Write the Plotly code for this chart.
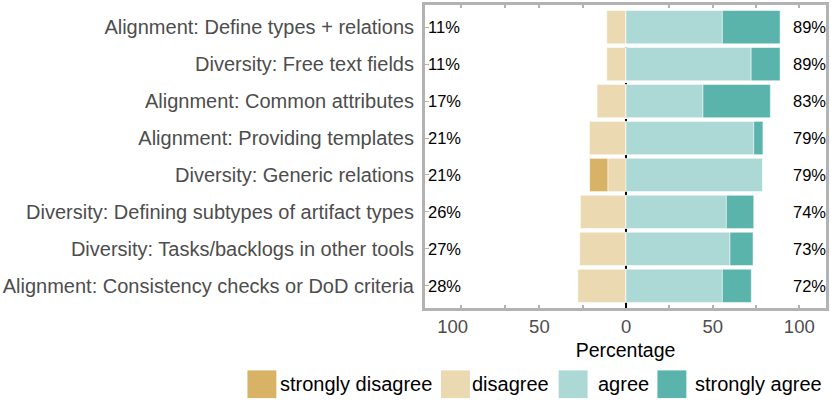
import plotly.graph_objects as go

# Items, top to bottom
categories = [
    "Alignment: Define types + relations",
    "Diversity: Free text fields",
    "Alignment: Common attributes",
    "Alignment: Providing templates",
    "Diversity: Generic relations",
    "Diversity: Defining subtypes of artifact types",
    "Diversity: Tasks/backlogs in other tools",
    "Alignment: Consistency checks or DoD criteria",
]

# Percentages per answer
strongly_disagree = [0, 0, 0, 0, 10.5, 0, 0, 0]
disagree = [11.1, 11.1, 16.7, 21.1, 10.5, 26.3, 26.7, 27.8]
agree = [55.6, 72.2, 44.4, 73.7, 78.9, 57.9, 60.0, 55.6]
strongly_agree = [33.3, 16.7, 38.9, 5.3, 0, 15.8, 13.3, 16.7]

levels = ["strongly disagree", "disagree", "agree", "strongly agree"]
colors = {"strongly disagree": "#D8B365", "disagree": "#EBD9B2",
          "agree": "#ACD9D5", "strongly agree": "#5AB4AC"}

x_ticks = [-100, -50, 0, 50, 100]
x_minor = [-95, -70, -50, -25, 25, 50, 75, 100]

FONT = "Liberation Sans, Arial, sans-serif"
GREY = "#B3B3B3"
W, H = 831, 401
L, R, T, B = 425, 4, 2, 93

fig = go.Figure()

# negative side: first trace sits next to zero
fig.add_trace(go.Bar(y=categories, x=[-v for v in disagree], name="disagree", orientation="h",
                     marker=dict(color=colors["disagree"], line=dict(color="white", width=0.5)), width=0.9))
fig.add_trace(go.Bar(y=categories, x=[-v for v in strongly_disagree], name="strongly disagree", orientation="h",
                     marker=dict(color=colors["strongly disagree"], line=dict(color="white", width=0.5)), width=0.9))
fig.add_trace(go.Bar(y=categories, x=agree, name="agree", orientation="h",
                     marker=dict(color=colors["agree"], line=dict(color="white", width=0.5)), width=0.9))
fig.add_trace(go.Bar(y=categories, x=strongly_agree, name="strongly agree", orientation="h",
                     marker=dict(color=colors["strongly agree"], line=dict(color="white", width=0.5)), width=0.9))

# dashed zero line behind the bars
fig.add_shape(type="line", x0=0, x1=0, y0=0, y1=1, xref="x", yref="paper",
              line=dict(color="black", width=2, dash="dash"), layer="below")

# totals on both sides
for cat, sd, d, a, sa in zip(categories, strongly_disagree, disagree, agree, strongly_agree):
    fig.add_annotation(x=-115.5, y=cat, text=f"{round(sd + d)}%", xanchor="left", showarrow=False,
                       font=dict(size=16.5, color="black", family=FONT))
    fig.add_annotation(x=115.3, y=cat, text=f"{round(a + sa)}%", xanchor="right", showarrow=False,
                       xshift=2, font=dict(size=16.5, color="black", family=FONT))


# hand-made legend with large keys
def px_x(p):
    return (p - L) / (W - L - R)


def px_y(p):
    return 1 - (p - T) / (H - T - B)


key_left = [247, 441, 559, 658]
text_left = [278, 470, 596, 694]
for lev, kx, tx in zip(levels, key_left, text_left):
    fig.add_shape(type="rect", xref="paper", yref="paper",
                  x0=px_x(kx), x1=px_x(kx + 29), y0=px_y(399), y1=px_y(371),
                  fillcolor=colors[lev], line=dict(width=0))
    fig.add_annotation(xref="paper", yref="paper", x=px_x(tx), y=px_y(385), text=lev,
                       xanchor="left", yanchor="middle", showarrow=False,
                       font=dict(size=20, color="black", family=FONT))

fig.update_layout(
    width=W, height=H,
    margin=dict(l=L, r=R, t=T, b=B),
    barmode="relative",
    bargap=0.1,
    plot_bgcolor="white",
    paper_bgcolor="white",
    showlegend=False,
    font=dict(family=FONT),
)
fig.update_xaxes(range=[-116, 115.4], tickvals=x_ticks, ticktext=[str(abs(v)) for v in x_ticks],
                 ticks="", showgrid=False, zeroline=False,
                 showline=True, linecolor=GREY, linewidth=3, mirror="ticks",
                 minor=dict(tickvals=x_minor, ticks="inside", ticklen=3, tickcolor=GREY, tickwidth=1.5),
                 tickfont=dict(size=18.5, color="#4D4D4D"),
                 title=dict(text="Percentage", font=dict(size=19.5, color="black"), standoff=8))
fig.update_yaxes(categoryorder="array", categoryarray=categories, range=[7.6, -0.6],
                 ticks="inside", ticklen=4, tickcolor=GREY, showgrid=False, zeroline=False,
                 showline=True, linecolor=GREY, linewidth=3, mirror=True, ticklabelstandoff=4,
                 tickfont=dict(size=20, color="#4D4D4D"))

fig.write_html("out.html", config={"displayModeBar": False},
               post_script="document.body.style.margin='0';")
